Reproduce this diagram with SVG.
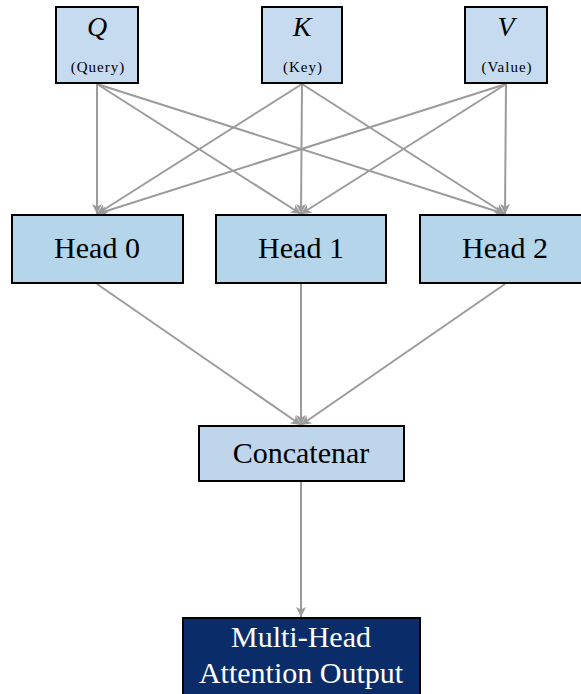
<svg xmlns="http://www.w3.org/2000/svg" width="581" height="694" viewBox="0 0 581 694">
<defs>
<marker id="ah" viewBox="0 0 10 10" refX="10" refY="5" markerWidth="10" markerHeight="10" markerUnits="userSpaceOnUse" orient="auto">
<path d="M0,0 L10,5 L0,10 L2.5,5 Z" fill="#9b9b9b"/>
</marker>
<style>
.in{fill:#c6dbef;stroke:#000;stroke-width:2}
.hd{fill:#b4d5ea;stroke:#000;stroke-width:2}
.cc{fill:#bed5eb;stroke:#000;stroke-width:2}
.out{fill:#0a2d6a;stroke:#000;stroke-width:2}
.c{stroke:#9b9b9b;stroke-width:2;fill:none;marker-end:url(#ah)}
text{font-family:'Liberation Serif','DejaVu Serif',serif;text-anchor:middle}
.sym{font-style:italic;font-size:28px;fill:#000}
.sub{font-size:15px;letter-spacing:1px;fill:#000}
.lb{font-size:30px;fill:#000}
.lw{font-size:30px;fill:#fff}
</style>
</defs>
<rect width="581" height="694" fill="#fff"/>
<g id="connectors">
<line class="c" x1="97" y1="84" x2="97" y2="214"/>
<line class="c" x1="97" y1="84" x2="301" y2="214"/>
<line class="c" x1="97" y1="84" x2="505" y2="214"/>
<line class="c" x1="302" y1="84" x2="97" y2="214"/>
<line class="c" x1="302" y1="84" x2="301" y2="214"/>
<line class="c" x1="302" y1="84" x2="505" y2="214"/>
<line class="c" x1="506" y1="84" x2="97" y2="214"/>
<line class="c" x1="506" y1="84" x2="301" y2="214"/>
<line class="c" x1="506" y1="84" x2="505" y2="214"/>
<line class="c" x1="97" y1="284" x2="301" y2="425"/>
<line class="c" x1="301" y1="284" x2="301" y2="425"/>
<line class="c" x1="505" y1="284" x2="301" y2="425"/>
<line class="c" x1="301" y1="482" x2="301" y2="617"/>
</g>
<g id="Q">
<rect class="in" x="56" y="7" width="82" height="76"/>
<text class="sym" x="97" y="36">Q</text>
<text class="sub" x="98" y="72">(Query)</text>
</g>
<g id="K">
<rect class="in" x="262" y="7" width="80" height="76"/>
<text class="sym" x="302" y="36">K</text>
<text class="sub" x="303" y="72">(Key)</text>
</g>
<g id="V">
<rect class="in" x="465" y="7" width="82" height="76"/>
<text class="sym" x="506" y="36">V</text>
<text class="sub" x="507" y="72">(Value)</text>
</g>
<g id="head0">
<rect class="hd" x="12" y="215" width="171" height="68"/>
<text class="lb" x="97" y="258">Head 0</text>
</g>
<g id="head1">
<rect class="hd" x="216" y="215" width="170" height="68"/>
<text class="lb" x="301" y="258">Head 1</text>
</g>
<g id="head2">
<rect class="hd" x="420" y="215" width="170" height="68"/>
<text class="lb" x="505" y="258">Head 2</text>
</g>
<g id="concat">
<rect class="cc" x="199" y="426" width="205" height="55"/>
<text class="lb" x="301" y="463">Concatenar</text>
</g>
<g id="output">
<rect class="out" x="183" y="618" width="237" height="90"/>
<text class="lw" x="301" y="647">Multi-Head</text>
<text class="lw" x="301" y="683">Attention Output</text>
</g>
</svg>
